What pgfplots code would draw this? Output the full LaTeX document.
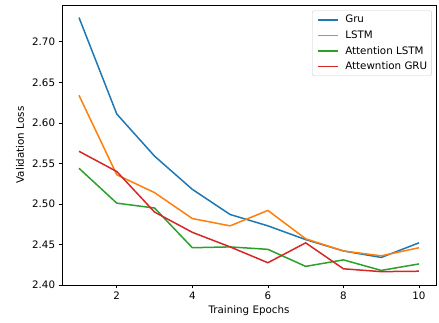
\documentclass[border=0pt]{standalone}
\usepackage{fontspec}
\setmainfont{DejaVu Sans}
\usepackage{pgfplots}
\pgfplotsset{compat=1.18}
\definecolor{tabblue}{HTML}{1F77B4}
\definecolor{taborange}{HTML}{FF7F0E}
\definecolor{tabgreen}{HTML}{2CA02C}
\definecolor{tabred}{HTML}{D62728}
\begin{document}
\fontsize{10.3bp}{12bp}\selectfont
\begin{tikzpicture}
\begin{axis}[
  at={(0,0)}, anchor=origin,
  width=374bp, height=280bp, scale only axis,
  xmin=0.55, xmax=10.45, ymin=2.40, ymax=2.7455,
  xtick={2,4,6,8,10},
  ytick={2.40,2.45,2.50,2.55,2.60,2.65,2.70},
  yticklabel style={/pgf/number format/fixed, /pgf/number format/fixed zerofill, /pgf/number format/precision=2},
  /pgf/number format/assume math mode=true,
  tick align=outside, major tick length=3.3bp,
  xtick pos=bottom, ytick pos=left,
  tick style={black, line width=0.75bp},
  axis line style={black, line width=0.75bp},
  ticklabel style={font=\fontsize{10.3bp}{12bp}\selectfont},
  xlabel={Training Epochs}, ylabel={Validation Loss},
  label style={font=\fontsize{10.3bp}{12bp}\selectfont},
  xlabel style={at={(axis description cs:0.5,-0.093)}, anchor=center},
  ylabel style={at={(axis description cs:-0.112,0.5)}, anchor=center},
  legend style={at={(axis description cs:0.989,0.98)}, anchor=north east,
    draw=black!20, rounded corners=2bp, font=\fontsize{10.3bp}{12bp}\selectfont,
    row sep=2.3bp, inner xsep=2.5bp, inner ysep=2.5bp},
  legend cell align=left,
  legend image code/.code={\draw[#1, line width=1.5bp] (2bp,0bp) -- (22bp,0bp); \path (0bp,0bp) (27bp,0bp);},
  every axis plot/.append style={line width=1.5bp},
]
\addplot[tabblue] coordinates {(1,2.730) (2,2.611) (3,2.559) (4,2.518) (5,2.487) (6,2.473) (7,2.456) (8,2.442) (9,2.434) (10,2.452)};
\addlegendentry{Gru}
\addplot[taborange] coordinates {(1,2.634) (2,2.536) (3,2.514) (4,2.482) (5,2.473) (6,2.492) (7,2.457) (8,2.442) (9,2.436) (10,2.446)};
\addlegendentry{LSTM}
\addplot[tabgreen] coordinates {(1,2.544) (2,2.501) (3,2.495) (4,2.446) (5,2.447) (6,2.444) (7,2.423) (8,2.431) (9,2.418) (10,2.426)};
\addlegendentry{Attention LSTM}
\addplot[tabred] coordinates {(1,2.565) (2,2.540) (3,2.490) (4,2.465) (5,2.447) (6,2.4275) (7,2.452) (8,2.420) (9,2.4165) (10,2.417)};
\addlegendentry{Attewntion GRU}
\end{axis}
\pgfresetboundingbox
\path (-62bp,-38bp) rectangle (377bp,285bp);
\end{tikzpicture}
\end{document}
